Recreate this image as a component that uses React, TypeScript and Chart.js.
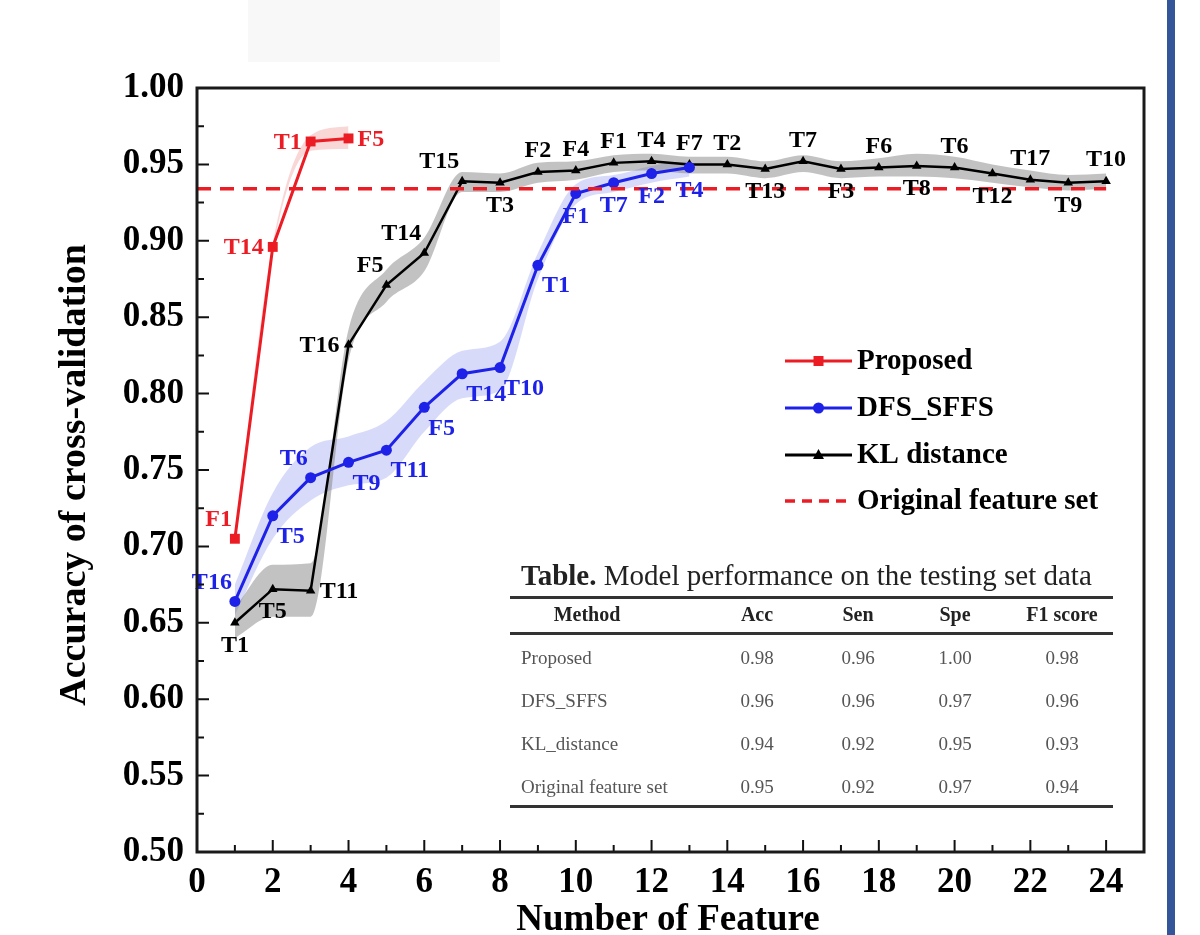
import React, { useEffect, useRef } from 'react';
import { Chart, registerables } from 'chart.js';

Chart.register(...registerables);

// ---------- data ----------
const xTickValues = [0, 2, 4, 6, 8, 10, 12, 14, 16, 18, 20, 22, 24];
const yTickValues = [0.5, 0.55, 0.6, 0.65, 0.7, 0.75, 0.8, 0.85, 0.9, 0.95, 1.0];

const proposedX = [1, 2, 3, 4];
const proposedAcc = [0.705, 0.896, 0.965, 0.967];
const proposedUpper = [0.707, 0.898, 0.969, 0.975];
const proposedLower = [0.703, 0.894, 0.959, 0.96];
const proposedLabels = ['F1', 'T14', 'T1', 'F5'];
const proposedLabelPos = ['al', 'l', 'l', 'r'];

const dfsX = [1, 2, 3, 4, 5, 6, 7, 8, 9, 10, 11, 12, 13];
const dfsAcc = [0.664, 0.72, 0.745, 0.755, 0.763, 0.791, 0.813, 0.817, 0.884, 0.931, 0.938, 0.944, 0.948];
const dfsUpper = [0.675, 0.735, 0.765, 0.772, 0.782, 0.808, 0.828, 0.834, 0.892, 0.937, 0.943, 0.949, 0.952];
const dfsLower = [0.655, 0.705, 0.73, 0.74, 0.745, 0.775, 0.797, 0.802, 0.875, 0.924, 0.932, 0.938, 0.942];
const dfsLabels = ['T16', 'T5', 'T6', 'T9', 'T11', 'F5', 'T14', 'T10', 'T1', 'F1', 'T7', 'F2', 'T4'];
const dfsLabelPos = ['al', 'br', 'al', 'br', 'br', 'br', 'br', 'br', 'br', 'b', 'b', 'b', 'b'];

const klX = [1, 2, 3, 4, 5, 6, 7, 8, 9, 10, 11, 12, 13, 14, 15, 16, 17, 18, 19, 20, 21, 22, 23, 24];
const klAcc = [0.65, 0.672, 0.671, 0.832, 0.871, 0.892, 0.939, 0.938, 0.945, 0.946, 0.951, 0.952, 0.95, 0.95, 0.947, 0.952, 0.947, 0.948, 0.949, 0.948, 0.944, 0.94, 0.938, 0.939];
const klUpper = [0.66, 0.688, 0.689, 0.842, 0.881, 0.902, 0.945, 0.944, 0.951, 0.952, 0.956, 0.957, 0.955, 0.955, 0.952, 0.956, 0.952, 0.954, 0.957, 0.955, 0.95, 0.946, 0.943, 0.944];
const klLower = [0.64, 0.654, 0.654, 0.822, 0.86, 0.88, 0.932, 0.932, 0.938, 0.94, 0.945, 0.946, 0.944, 0.944, 0.941, 0.945, 0.941, 0.942, 0.942, 0.941, 0.938, 0.935, 0.933, 0.934];
const klLabels = ['T1', 'T5', 'T11', 'T16', 'F5', 'T14', 'T15', 'T3', 'F2', 'F4', 'F1', 'T4', 'F7', 'T2', 'T13', 'T7', 'F3', 'F6', 'T8', 'T6', 'T12', 'T17', 'T9', 'T10'];
const klLabelPos = ['b', 'b', 'r', 'l', 'al', 'al', 'al', 'b', 'a', 'a', 'a', 'a', 'a', 'a', 'b', 'a', 'b', 'a', 'b', 'a', 'b', 'a', 'b', 'a'];

const originalX = [0, 24];
const originalAcc = 0.934;

const legendNames = ['Proposed', 'DFS_SFFS', 'KL distance', 'Original feature set'];

const tableTitleBold = 'Table.';
const tableTitleRest = ' Model performance on the testing set data';
const tableColumns = ['Method', 'Acc', 'Sen', 'Spe', 'F1 score'];
const tableMethods = ['Proposed', 'DFS_SFFS', 'KL_distance', 'Original feature set'];
const tableAcc = ['0.98', '0.96', '0.94', '0.95'];
const tableSen = ['0.96', '0.96', '0.92', '0.92'];
const tableSpe = ['1.00', '0.97', '0.95', '0.97'];
const tableF1 = ['0.98', '0.96', '0.93', '0.94'];

// ---------- styles ----------
const SERIF = '"Liberation Serif", "Times New Roman", serif';
const RED = '#ec1c24';
const BLUE = '#1e22e8';
const BLACK = '#000000';

const pts = (xs: number[], ys: number[]) => xs.map((x, i) => ({ x, y: ys[i] }));

const labelOffsets: Record<string, [CanvasTextAlign, number, number]> = {
  a: ['center', 0, -21],
  b: ['center', 0, 23],
  l: ['right', -9, 1],
  r: ['left', 9, 1],
  al: ['right', -3, -19],
  ar: ['left', 3, -19],
  bl: ['right', -3, 21],
  br: ['left', 4, 21],
};

const pointLabelPlugin = {
  id: 'pointLabels',
  afterDatasetsDraw(chart: any) {
    const { ctx } = chart;
    const groups = [
      { idx: 0, labels: proposedLabels, pos: proposedLabelPos, color: RED },
      { idx: 1, labels: dfsLabels, pos: dfsLabelPos, color: BLUE },
      { idx: 2, labels: klLabels, pos: klLabelPos, color: BLACK },
    ];
    ctx.save();
    ctx.font = `bold 24px ${SERIF}`;
    ctx.textBaseline = 'middle';
    groups.forEach((g) => {
      const meta = chart.getDatasetMeta(g.idx);
      meta.data.forEach((el: any, i: number) => {
        const [align, dx, dy] = labelOffsets[g.pos[i]];
        ctx.textAlign = align;
        ctx.fillStyle = g.color;
        ctx.fillText(g.labels[i], el.x + dx, el.y + dy);
      });
    });
    ctx.restore();
  },
};

const framePlugin = {
  id: 'frameAndLegend',
  afterDraw(chart: any) {
    const { ctx, chartArea, scales } = chart;
    const { left, right, top, bottom } = chartArea;
    const x = scales.x;
    const y = scales.y;
    ctx.save();
    ctx.strokeStyle = '#111';
    ctx.lineWidth = 2;
    ctx.beginPath();
    xTickValues.forEach((v, i) => {
      const px = x.getPixelForValue(v);
      ctx.moveTo(px, bottom);
      ctx.lineTo(px, bottom - 12);
      if (i < xTickValues.length - 1) {
        const mx = x.getPixelForValue((v + xTickValues[i + 1]) / 2);
        ctx.moveTo(mx, bottom);
        ctx.lineTo(mx, bottom - 7);
      }
    });
    yTickValues.forEach((v, i) => {
      const py = y.getPixelForValue(v);
      ctx.moveTo(left, py);
      ctx.lineTo(left + 12, py);
      if (i < yTickValues.length - 1) {
        const my = y.getPixelForValue((v + yTickValues[i + 1]) / 2);
        ctx.moveTo(left, my);
        ctx.lineTo(left + 7, my);
      }
    });
    ctx.stroke();
    ctx.lineWidth = 3;
    ctx.strokeStyle = '#1a1a1a';
    ctx.strokeRect(left, top, right - left, bottom - top);

    // axis titles
    ctx.fillStyle = '#000';
    ctx.font = `bold 37px ${SERIF}`;
    ctx.textAlign = 'center';
    ctx.textBaseline = 'middle';
    ctx.fillText('Number of Feature', 668, 920);
    ctx.save();
    ctx.font = `bold 38px ${SERIF}`;
    ctx.translate(75, 475);
    ctx.rotate(-Math.PI / 2);
    ctx.fillText('Accuracy of cross-validation', 0, 0);
    ctx.restore();

    // legend
    const lx0 = 785;
    const lx1 = 852;
    const rows = [361, 408, 455, 501];
    const colors = [RED, BLUE, BLACK, RED];
    rows.forEach((ry, i) => {
      ctx.strokeStyle = colors[i];
      ctx.fillStyle = colors[i];
      ctx.lineWidth = i === 3 ? 3.5 : 3;
      ctx.setLineDash(i === 3 ? [10, 7] : []);
      ctx.beginPath();
      ctx.moveTo(lx0, ry);
      ctx.lineTo(lx1, ry);
      ctx.stroke();
      ctx.setLineDash([]);
      const cx = (lx0 + lx1) / 2;
      if (i === 0) ctx.fillRect(cx - 5, ry - 5, 10, 10);
      if (i === 1) {
        ctx.beginPath();
        ctx.arc(cx, ry, 5.5, 0, Math.PI * 2);
        ctx.fill();
      }
      if (i === 2) {
        ctx.beginPath();
        ctx.moveTo(cx, ry - 6);
        ctx.lineTo(cx + 5.5, ry + 4);
        ctx.lineTo(cx - 5.5, ry + 4);
        ctx.closePath();
        ctx.fill();
      }
      ctx.fillStyle = '#000';
      ctx.font = `bold 29px ${SERIF}`;
      ctx.textAlign = 'left';
      ctx.fillText(legendNames[i], lx1 + 5, ry + 1);
    });
    ctx.restore();
  },
};

export default function App() {
  const ref = useRef<HTMLCanvasElement | null>(null);

  useEffect(() => {
    if (!ref.current) return;
    const tickFont = { family: SERIF, size: 35, weight: 'bold' as const };
    const band = {
      borderWidth: 0,
      borderColor: 'rgba(0,0,0,0)',
      pointRadius: 0,
      cubicInterpolationMode: 'monotone' as const,
    };
    const chart = new Chart(ref.current, {
      type: 'line',
      data: {
        datasets: [
          {
            label: 'Proposed',
            data: pts(proposedX, proposedAcc),
            borderColor: RED,
            backgroundColor: RED,
            borderWidth: 3,
            pointStyle: 'rect',
            pointRadius: 7,
            pointBorderWidth: 0,
            tension: 0,
            fill: false,
            order: 1,
          },
          {
            label: 'DFS_SFFS',
            data: pts(dfsX, dfsAcc),
            borderColor: BLUE,
            backgroundColor: BLUE,
            borderWidth: 3,
            pointStyle: 'circle',
            pointRadius: 5.5,
            pointBorderWidth: 0,
            tension: 0,
            fill: false,
            order: 2,
          },
          {
            label: 'KL distance',
            data: pts(klX, klAcc),
            borderColor: BLACK,
            backgroundColor: BLACK,
            borderWidth: 2.5,
            pointStyle: 'triangle',
            pointRadius: 5.5,
            pointBorderWidth: 0,
            tension: 0,
            fill: false,
            order: 3,
          },
          {
            label: 'Original feature set',
            data: originalX.map((x) => ({ x, y: originalAcc })),
            borderColor: RED,
            borderWidth: 3.5,
            borderDash: [14, 9],
            pointRadius: 0,
            fill: false,
            order: 0,
          },
          { ...band, label: 'kl-up', data: pts(klX, klUpper), fill: false, order: 10 },
          { ...band, label: 'kl-low', data: pts(klX, klLower), backgroundColor: 'rgba(120,120,120,0.45)', fill: '-1', order: 10 },
          { ...band, label: 'dfs-up', data: pts(dfsX, dfsUpper), fill: false, order: 11 },
          { ...band, label: 'dfs-low', data: pts(dfsX, dfsLower), backgroundColor: 'rgba(110,125,235,0.28)', fill: '-1', order: 11 },
          { ...band, label: 'prop-up', data: pts(proposedX, proposedUpper), fill: false, order: 12 },
          { ...band, label: 'prop-low', data: pts(proposedX, proposedLower), backgroundColor: 'rgba(240,140,140,0.35)', fill: '-1', order: 12 },
        ],
      },
      options: {
        animation: false,
        responsive: false,
        maintainAspectRatio: false,
        layout: { padding: { left: 0, right: 56, top: 88, bottom: 0 } },
        plugins: {
          legend: { display: false },
          tooltip: { enabled: false },
        },
        scales: {
          x: {
            type: 'linear',
            min: 0,
            max: 25,
            afterBuildTicks: (s: any) => {
              s.ticks = xTickValues.map((v) => ({ value: v }));
            },
            afterFit: (s: any) => {
              s.height = 83;
            },
            grid: { display: false, drawTicks: false },
            border: { display: false },
            ticks: {
              font: tickFont,
              color: '#000',
              padding: 10,
              maxRotation: 0,
              autoSkip: false,
              callback: (v: any) => String(v),
            },
          },
          y: {
            type: 'linear',
            min: 0.5,
            max: 1.0,
            afterBuildTicks: (s: any) => {
              s.ticks = yTickValues.map((v) => ({ value: v }));
            },
            afterFit: (s: any) => {
              s.width = 197;
            },
            grid: { display: false, drawTicks: false },
            border: { display: false },
            ticks: {
              font: tickFont,
              color: '#000',
              padding: 13,
              autoSkip: false,
              callback: (v: any) => Number(v).toFixed(2),
            },
          },
        },
      },
      plugins: [pointLabelPlugin, framePlugin],
    });
    return () => chart.destroy();
  }, []);

  const colCenters = [587, 757, 858, 955, 1062];
  const rowY = [657, 700, 743, 786];
  const cell = (text: string, cx: number, cy: number, extra: React.CSSProperties = {}) => (
    <div
      key={`${text}-${cx}-${cy}`}
      style={{
        position: 'absolute',
        left: cx,
        top: cy,
        transform: 'translate(-50%, -50%)',
        whiteSpace: 'nowrap',
        fontFamily: SERIF,
        fontSize: 19,
        color: '#555',
        lineHeight: 1,
        ...extra,
      }}
    >
      {text}
    </div>
  );
  const rule = (top: number, h: number) => (
    <div key={`rule-${top}`} style={{ position: 'absolute', left: 510, width: 603, top, height: h, background: '#333' }} />
  );

  return (
    <div style={{ position: 'fixed', left: 0, top: 0, width: 1200, height: 935, background: '#fff', overflow: 'hidden' }}>
      <div style={{ position: 'absolute', left: 248, top: 0, width: 252, height: 62, background: '#f8f8f8' }} />
      <canvas ref={ref} width={1200} height={935} style={{ position: 'absolute', left: 0, top: 0, width: 1200, height: 935 }} />
      <div style={{ position: 'absolute', left: 1167, top: 0, width: 8, height: 935, background: '#35559a' }} />
      <div
        style={{
          position: 'absolute',
          left: 521,
          top: 575,
          transform: 'translateY(-50%)',
          whiteSpace: 'nowrap',
          fontFamily: SERIF,
          fontSize: 29,
          color: '#222',
          lineHeight: 1,
        }}
      >
        <b>{tableTitleBold}</b>
        {tableTitleRest}
      </div>
      {rule(596, 3)}
      {tableColumns.map((c, i) => cell(c, colCenters[i], 614, { fontWeight: 'bold', color: '#222', fontSize: 20 }))}
      {rule(632, 3)}
      {tableMethods.map((m, r) => (
        <div
          key={m}
          style={{
            position: 'absolute',
            left: 521,
            top: rowY[r],
            transform: 'translateY(-50%)',
            whiteSpace: 'nowrap',
            fontFamily: SERIF,
            fontSize: 19,
            color: '#555',
            lineHeight: 1,
          }}
        >
          {m}
        </div>
      ))}
      {tableAcc.map((v, r) => cell(v, colCenters[1], rowY[r]))}
      {tableSen.map((v, r) => cell(v, colCenters[2], rowY[r]))}
      {tableSpe.map((v, r) => cell(v, colCenters[3], rowY[r]))}
      {tableF1.map((v, r) => cell(v, colCenters[4], rowY[r]))}
      {rule(805, 3)}
    </div>
  );
}
